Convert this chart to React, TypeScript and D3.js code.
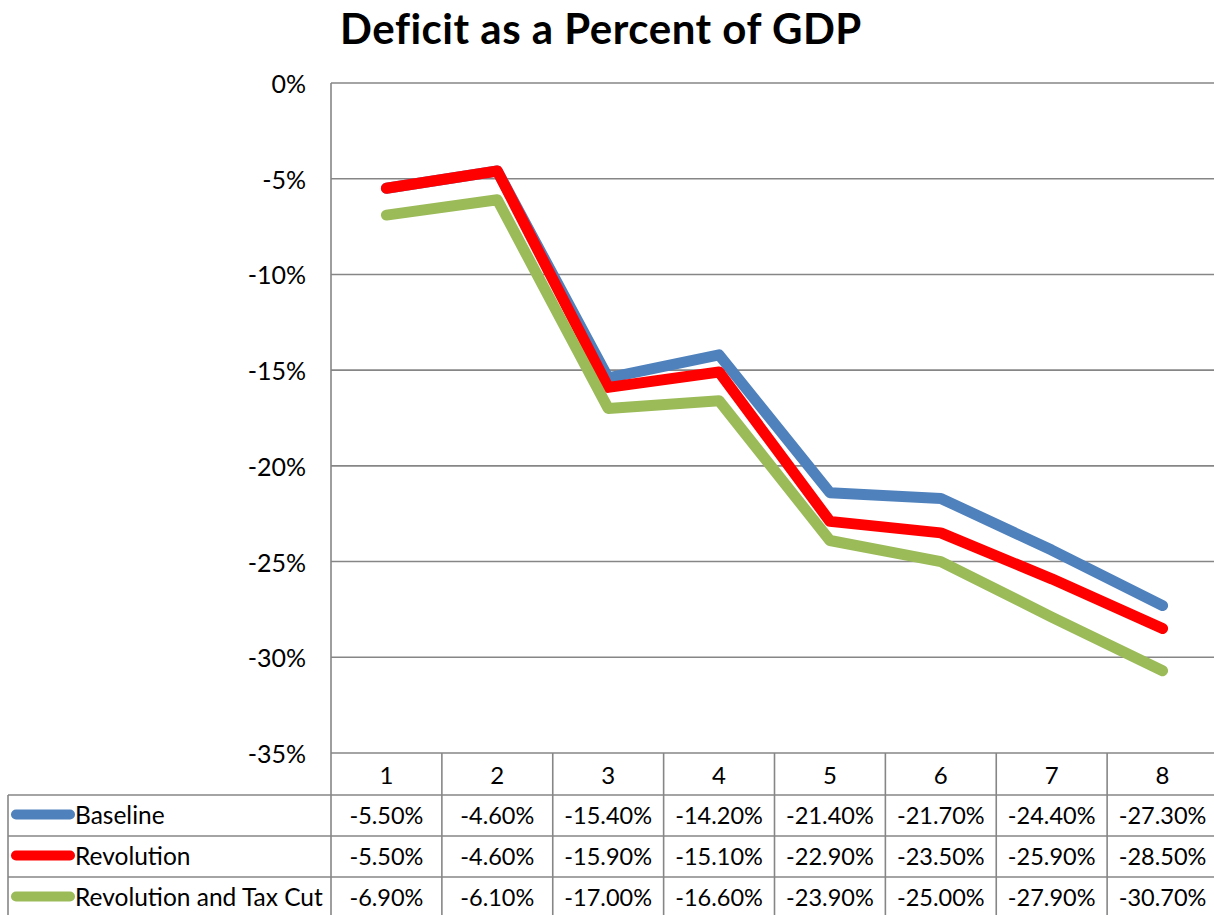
import React from "react";
import * as d3 from "d3";

const categories = ["1", "2", "3", "4", "5", "6", "7", "8"];
const baseline = [-5.5, -4.6, -15.4, -14.2, -21.4, -21.7, -24.4, -27.3];
const revolution = [-5.5, -4.6, -15.9, -15.1, -22.9, -23.5, -25.9, -28.5];
const taxCut = [-6.9, -6.1, -17.0, -16.6, -23.9, -25.0, -27.9, -30.7];
const seriesNames = ["Baseline", "Revolution", "Revolution and Tax Cut"];
const seriesColors = ["#4F81BD", "#FF0000", "#9BBB59"];
const yTicks = [0, -5, -10, -15, -20, -25, -30, -35];

const W = 1214;
const H = 915;
const plotLeft = 331;
const plotRight = 1218;
const plotTop = 83;
const plotBottom = 753;
const tableLeft = 8;
const rowTops = [753, 795, 836, 877, 918];
const FONT = "Lato, 'Open Sans', sans-serif";
const GRID = "#868686";

export default function App() {
  const series = [baseline, revolution, taxCut];
  const x = d3.scaleBand<string>().domain(categories).range([plotLeft, plotRight]);
  const y = d3.scaleLinear().domain([-35, 0]).range([plotBottom, plotTop]);
  const line = d3
    .line<number>()
    .x((_, i) => (x(categories[i]) as number) + x.bandwidth() / 2)
    .y((d) => y(d));

  const colEdges = categories.map((c) => x(c) as number).concat([plotRight]);

  return (
    <svg width={W} height={H} style={{ position: "absolute", left: 0, top: 0, background: "#fff" }}>
      <rect x={0} y={0} width={W} height={H} fill="#fff" />
      <text x={601} y={44} textAnchor="middle" fontFamily={FONT} fontWeight={700} fontSize={42} letterSpacing={0.5} fill="#000">
        Deficit as a Percent of GDP
      </text>

      {/* gridlines */}
      {yTicks.map((t) => (
        <line key={t} x1={plotLeft} x2={plotRight} y1={y(t)} y2={y(t)} stroke={GRID} strokeWidth={1.6} />
      ))}
      {yTicks.map((t) => (
        <text
          key={"l" + t}
          x={306}
          y={y(t)}
          textAnchor="end"
          dominantBaseline="central"
          fontFamily={FONT}
          fontSize={25}
          fill="#000"
        >
          {t === 0 ? "0%" : `${t}%`}
        </text>
      ))}
      <line x1={plotLeft} x2={plotLeft} y1={plotTop} y2={H} stroke={GRID} strokeWidth={1.6} />

      {/* table */}
      {colEdges.slice(1).map((cx, i) => (
        <line key={"c" + i} x1={cx} x2={cx} y1={plotBottom} y2={H} stroke={GRID} strokeWidth={1.6} />
      ))}
      {rowTops.slice(1, 4).map((ry, i) => (
        <line key={"r" + i} x1={tableLeft} x2={plotRight} y1={ry} y2={ry} stroke={GRID} strokeWidth={1.6} />
      ))}
      <line x1={tableLeft} x2={tableLeft} y1={rowTops[1]} y2={H} stroke={GRID} strokeWidth={1.6} />

      {categories.map((c) => (
        <text
          key={"h" + c}
          x={(x(c) as number) + x.bandwidth() / 2}
          y={(rowTops[0] + rowTops[1]) / 2}
          textAnchor="middle"
          dominantBaseline="central"
          fontFamily={FONT}
          fontSize={24}
          fill="#000"
        >
          {c}
        </text>
      ))}

      {series.map((s, si) => {
        const cy = (rowTops[si + 1] + rowTops[si + 2]) / 2;
        return (
          <g key={"row" + si}>
            <line x1={16} x2={70} y1={cy - 1} y2={cy - 1} stroke={seriesColors[si]} strokeWidth={10} strokeLinecap="round" />
            <text x={75} y={cy - 1} dominantBaseline="central" fontFamily={FONT} fontSize={24.5} fill="#000">
              {seriesNames[si]}
            </text>
            {s.map((v, i) => (
              <text
                key={i}
                x={(x(categories[i]) as number) + x.bandwidth() / 2}
                y={cy - 1}
                textAnchor="middle"
                dominantBaseline="central"
                fontFamily={FONT}
                fontSize={23.5}
                fill="#000"
              >
                {`${v.toFixed(2)}%`}
              </text>
            ))}
          </g>
        );
      })}

      {/* lines */}
      {series.map((s, si) => (
        <path
          key={"p" + si}
          d={line(s) || ""}
          fill="none"
          stroke={seriesColors[si]}
          strokeWidth={11}
          strokeLinecap="round"
          strokeLinejoin="round"
        />
      ))}
    </svg>
  );
}
